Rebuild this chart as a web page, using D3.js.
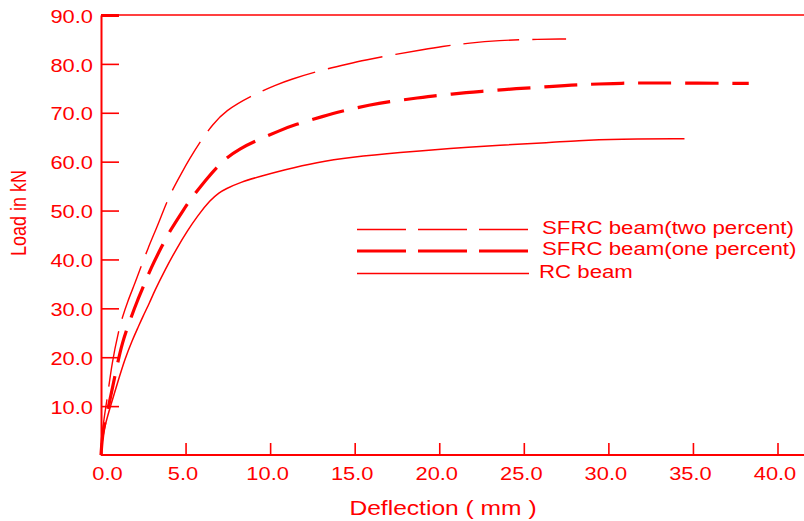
<!DOCTYPE html>
<html>
<head>
<meta charset="utf-8">
<script src="https://cdn.jsdelivr.net/npm/d3@7"></script>
<style>
  body { margin: 0; background: #fff; }
  svg text { font-family: "Liberation Sans", Arial, sans-serif; fill: #ff0000; }
</style>
</head>
<body>
<div id="vis-container"></div>
<script>
// series: load (kN) vs deflection (mm)
var twoPctX = [0, 0.1, 0.35, 0.65, 1.05, 1.25, 1.55, 2.04, 2.33, 2.8, 3.32, 3.61, 4.1, 4.8, 5.19, 5.88, 6.6, 7.35, 8.83, 10.4, 11.2, 12.77, 14.74, 15.5, 17.3, 19.17, 20.05, 21.8, 23.6, 25.2, 27.5];
var twoPctY = [0, 6, 11, 19, 25.5, 28, 31.2, 35.4, 38.2, 42.5, 46.7, 49.3, 53.5, 57.9, 60.3, 64.2, 67.6, 70.4, 73.4, 75.8, 76.8, 78.5, 80.1, 80.7, 81.9, 83, 83.5, 84.3, 84.8, 85.0, 85.1];

var onePctX = [0, 0.1, 0.46, 0.9, 1.25, 1.74, 2.14, 2.6, 2.92, 3.61, 4.1, 4.89, 5.29, 6.27, 6.86, 7.45, 8.24, 9.03, 10.6, 11.39, 13.26, 14.05, 16.02, 16.9, 18.87, 19.76, 21.8, 22.6, 24.7, 25.96, 27.5, 28.5, 30.5, 31.3, 34, 38.3];
var onePctY = [0, 5, 10, 17.5, 23, 27.8, 31.5, 35.2, 38, 42.8, 46, 50.2, 52.3, 56.6, 58.9, 60.9, 62.7, 64.1, 66.4, 67.5, 69.4, 70.2, 71.7, 72.2, 73.1, 73.5, 74.2, 74.4, 75.0, 75.2, 75.6, 75.8, 76.0, 76.1, 76.1, 76.0];

var rcX = [0, 0.1, 0.56, 1.0, 1.4, 1.85, 2.23, 2.43, 2.92, 3.12, 3.8, 4.5, 5.1, 5.68, 6.47, 7.0, 7.35, 8.24, 9.42, 10.8, 12.77, 14.74, 17.69, 20.64, 23.6, 26.55, 28.1, 30.6, 34.5];
var rcY = [0, 4.5, 10, 15, 19.5, 23.5, 26.4, 28, 31.5, 33.2, 38, 42.4, 45.8, 48.8, 52.2, 53.7, 54.4, 55.8, 57.0, 58.3, 59.9, 60.9, 61.9, 62.7, 63.4, 63.9, 64.3, 64.6, 64.7];

var seriesNames = ["SFRC beam(two percent)", "SFRC beam(one percent)", "RC beam"];
var xTicks = [0, 5, 10, 15, 20, 25, 30, 35, 40];
var yTicks = [10, 20, 30, 40, 50, 60, 70, 80, 90];

var width = 804;
var height = 521;
var stretch = 1.25; // text in the picture is drawn wide

var svg = d3.select("#vis-container")
	.append("svg")
	.attr("width", width)
	.attr("height", height);

var x = d3.scaleLinear().domain([0, 40]).range([101, 777.5]);
var y = d3.scaleLinear().domain([0, 90]).range([455, 15]);

var zip = function(xs, ys) {
	return xs.map(function(v, i) { return [v, ys[i]]; });
};

// frame lines: top and bottom run to the right edge
svg.append("line")
	.attr("x1", x(0)).attr("x2", width)
	.attr("y1", y(90)).attr("y2", y(90))
	.attr("stroke", "#ff0000").attr("stroke-width", 1.6);
svg.append("line")
	.attr("x1", x(0)).attr("x2", width)
	.attr("y1", y(0)).attr("y2", y(0))
	.attr("stroke", "#ff0000").attr("stroke-width", 2);

// y axis, ticks pointing inwards
var yAxis = svg.append("g")
	.attr("transform", "translate(" + x(0) + ",0)")
	.call(d3.axisLeft(y).tickValues(yTicks).tickSizeInner(-18).tickSizeOuter(0).tickFormat(d3.format(".1f")));
yAxis.select(".domain").attr("stroke", "#ff0000").attr("stroke-width", 2);
yAxis.selectAll(".tick line").attr("stroke", "#ff0000").attr("stroke-width", function(d) { return d === 90 ? 3 : 1.6; });
yAxis.selectAll(".tick text")
	.attr("x", null).attr("dy", null)
	.attr("dominant-baseline", "central")
	.attr("transform", "translate(-8,1) scale(" + stretch + ",1)")
	.style("font-size", "17.5px").style("fill", "#ff0000");

// x axis, ticks pointing up
var xAxis = svg.append("g")
	.attr("transform", "translate(0," + y(0) + ")")
	.call(d3.axisBottom(x).tickValues(xTicks).tickSizeInner(-12).tickSizeOuter(0).tickFormat(d3.format(".1f")));
xAxis.select(".domain").remove();
xAxis.selectAll(".tick line").attr("stroke", "#ff0000").attr("stroke-width", 1.6);
xAxis.selectAll(".tick text")
	.attr("y", null).attr("dy", null)
	.attr("transform", function(d) { return "translate(" + (d === 0 ? 6 : -3) + ",24.5) scale(" + stretch + ",1)"; })
	.style("font-size", "17.5px").style("fill", "#ff0000");

// axis titles
svg.append("text")
	.attr("transform", "translate(443,515) scale(1.23,1)")
	.attr("text-anchor", "middle")
	.style("font-size", "20px")
	.text("Deflection ( mm )");
svg.append("text")
	.attr("transform", "translate(26,213) scale(1.2,1) rotate(-90)")
	.attr("text-anchor", "middle")
	.style("font-size", "18px")
	.text("Load in kN");

// curves
var line = d3.line()
	.x(function(d) { return x(d[0]); })
	.y(function(d) { return y(d[1]); })
	.curve(d3.curveBasis);

var styles = [
	{ data: zip(twoPctX, twoPctY), width: 1.4, dash: "56,13", legendDash: "49,12" },
	{ data: zip(onePctX, onePctY), width: 3.2, dash: "33,14", legendDash: "49,12" },
	{ data: zip(rcX, rcY), width: 1.5, dash: null, legendDash: null }
];

styles.forEach(function(s) {
	svg.append("path")
		.attr("d", line(s.data))
		.attr("fill", "none")
		.attr("stroke", "#ff0000")
		.attr("stroke-width", s.width)
		.attr("stroke-dasharray", s.dash);
});

// legend
var legendY = [229.5, 251, 273.5];
var legendTextX = [542, 542, 539];
styles.forEach(function(s, i) {
	svg.append("line")
		.attr("x1", 357).attr("x2", 529)
		.attr("y1", legendY[i]).attr("y2", legendY[i])
		.attr("stroke", "#ff0000")
		.attr("stroke-width", s.width)
		.attr("stroke-dasharray", s.legendDash);
	svg.append("text")
		.attr("transform", "translate(" + legendTextX[i] + "," + (legendY[i] + 4) + ") scale(1.27,1)")
		.style("font-size", "17.5px")
		.text(seriesNames[i]);
});
</script>
</body>
</html>
